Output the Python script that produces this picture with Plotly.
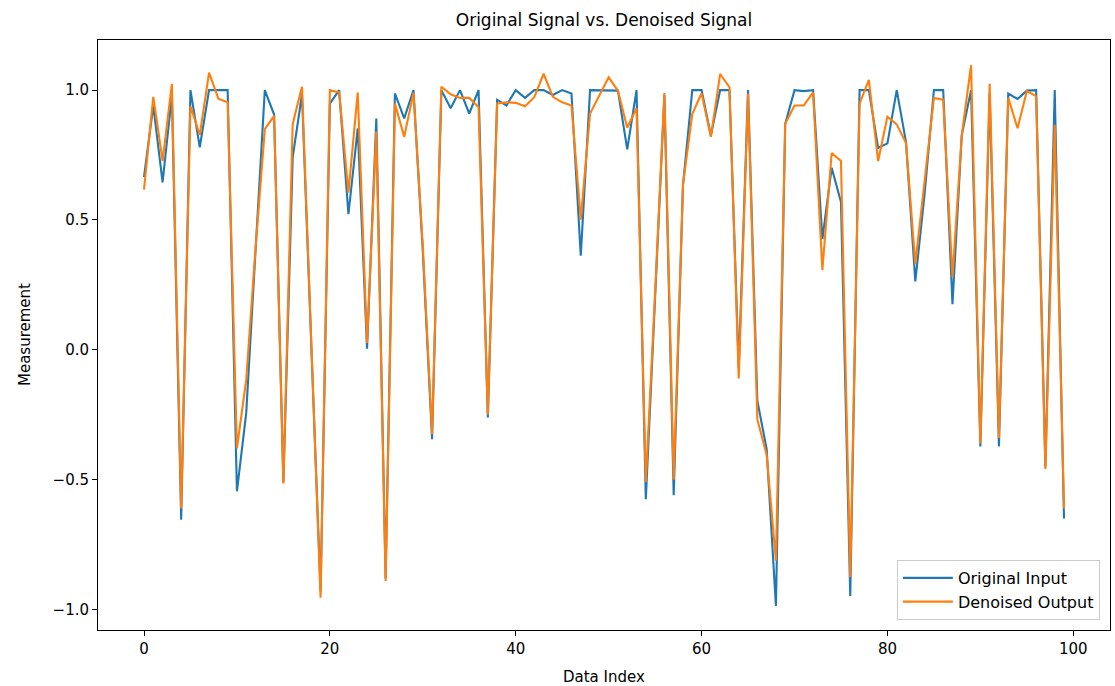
import plotly.graph_objects as go

index = list(range(100))

original_input = [
    0.665, 0.94, 0.645, 0.98, -0.654, 1.0, 0.78, 1.0, 1.0, 1.0,
    -0.545, -0.243, 0.38, 1.0, 0.906, -0.51, 0.741, 0.984, 0.02, -0.93,
    0.948, 1.0, 0.522, 0.853, 0.004, 0.891, -0.88, 0.987, 0.891, 1.0,
    0.38, -0.344, 1.0, 0.93, 1.0, 0.91, 1.0, -0.261, 0.963, 0.941,
    1.0, 0.97, 1.0, 1.0, 0.981, 1.0, 0.987, 0.362, 1.0, 1.0,
    1.0, 0.998, 0.772, 1.0, -0.575, 0.2, 0.98, -0.56, 0.634, 1.0,
    1.0, 0.825, 1.0, 1.0, -0.07, 1.0, -0.196, -0.382, -0.986, 0.87,
    1.0, 0.996, 1.0, 0.426, 0.701, 0.569, -0.948, 1.0, 1.0, 0.777,
    0.795, 1.0, 0.8, 0.263, 0.6, 1.0, 1.0, 0.176, 0.827, 1.0,
    -0.372, 0.99, -0.372, 0.987, 0.966, 0.998, 1.0, -0.45, 1.0, -0.65,
]

denoised_output = [
    0.617, 0.974, 0.727, 1.024, -0.611, 0.938, 0.827, 1.067, 0.967, 0.953,
    -0.38, -0.116, 0.39, 0.85, 0.901, -0.515, 0.87, 1.013, 0.03, -0.955,
    1.0, 0.991, 0.605, 0.991, 0.026, 0.841, -0.89, 0.948, 0.82, 0.99,
    0.4, -0.325, 1.013, 0.984, 0.97, 0.97, 0.934, -0.25, 0.949, 0.953,
    0.951, 0.938, 0.973, 1.063, 0.974, 0.953, 0.941, 0.501, 0.91, 0.98,
    1.049, 0.998, 0.855, 0.93, -0.51, 0.22, 0.989, -0.5, 0.636, 0.908,
    0.988, 0.82, 1.062, 1.011, -0.11, 0.987, -0.268, -0.404, -0.812, 0.87,
    0.941, 0.941, 0.991, 0.307, 0.758, 0.727, -0.876, 0.948, 1.039, 0.727,
    0.898, 0.868, 0.796, 0.33, 0.64, 0.97, 0.963, 0.28, 0.827, 1.096,
    -0.361, 1.024, -0.34, 0.97, 0.853, 0.996, 0.977, -0.459, 0.867, -0.611,
]

x_ticks = [0, 20, 40, 60, 80, 100]
y_ticks = [-1.0, -0.5, 0.0, 0.5, 1.0]

FONT = "DejaVu Sans"
W, H = 1115, 686
L, R, T, B = 98, 5, 40, 56

fig = go.Figure()
fig.add_trace(go.Scatter(
    x=index, y=original_input, mode="lines", name="Original Input",
    line=dict(color="#1f77b4", width=2.1),
))
fig.add_trace(go.Scatter(
    x=index, y=denoised_output, mode="lines", name="Denoised Output",
    line=dict(color="#ff7f0e", width=2.1),
))

plot_h = H - T - B
fig.update_layout(
    width=W, height=H,
    margin=dict(l=L, r=R, t=T, b=B, autoexpand=False),
    paper_bgcolor="white", plot_bgcolor="white",
    font=dict(family=FONT, size=15, color="black"),
    title=dict(text="Original Signal vs. Denoised Signal", x=0.5, xref="paper",
               y=1 - 20 / H, yanchor="middle", font=dict(size=17, family=FONT)),
    showlegend=True,
    legend=dict(
        x=0.99, y=0.017, xanchor="right", yanchor="bottom",
        bgcolor="rgba(255,255,255,0.8)", bordercolor="#cccccc", borderwidth=1,
        font=dict(size=16, family=FONT),
        itemwidth=50, tracegroupgap=2,
    ),
    annotations=[
        dict(text="Data Index", xref="paper", yref="paper", x=0.5,
             y=-(677 - (H - B)) / plot_h, xanchor="center", yanchor="middle",
             showarrow=False, font=dict(size=15, family=FONT)),
        dict(text="Measurement", xref="paper", yref="paper",
             x=-(L - 25) / (W - L - R), y=0.5, xanchor="center", yanchor="middle",
             textangle=-90, showarrow=False, font=dict(size=15, family=FONT)),
    ],
)

fig.update_xaxes(
    range=[-4.95, 103.95], tickvals=x_ticks, ticktext=[str(t) for t in x_ticks],
    showgrid=False, zeroline=False, showline=True, linecolor="black", linewidth=1,
    mirror=True, ticks="outside", ticklen=5, tickcolor="black", automargin=False,
    tickfont=dict(size=15, family=FONT),
)
fig.update_yaxes(
    range=[-1.079, 1.193], tickvals=y_ticks,
    ticktext=[f"{t:.1f}".replace("-", "\u2212") for t in y_ticks],
    showgrid=False, zeroline=False, showline=True, linecolor="black", linewidth=1,
    mirror=True, ticks="outside", ticklen=5, tickcolor="black", automargin=False,
    tickfont=dict(size=15, family=FONT),
)

fig.write_html("out.html")
